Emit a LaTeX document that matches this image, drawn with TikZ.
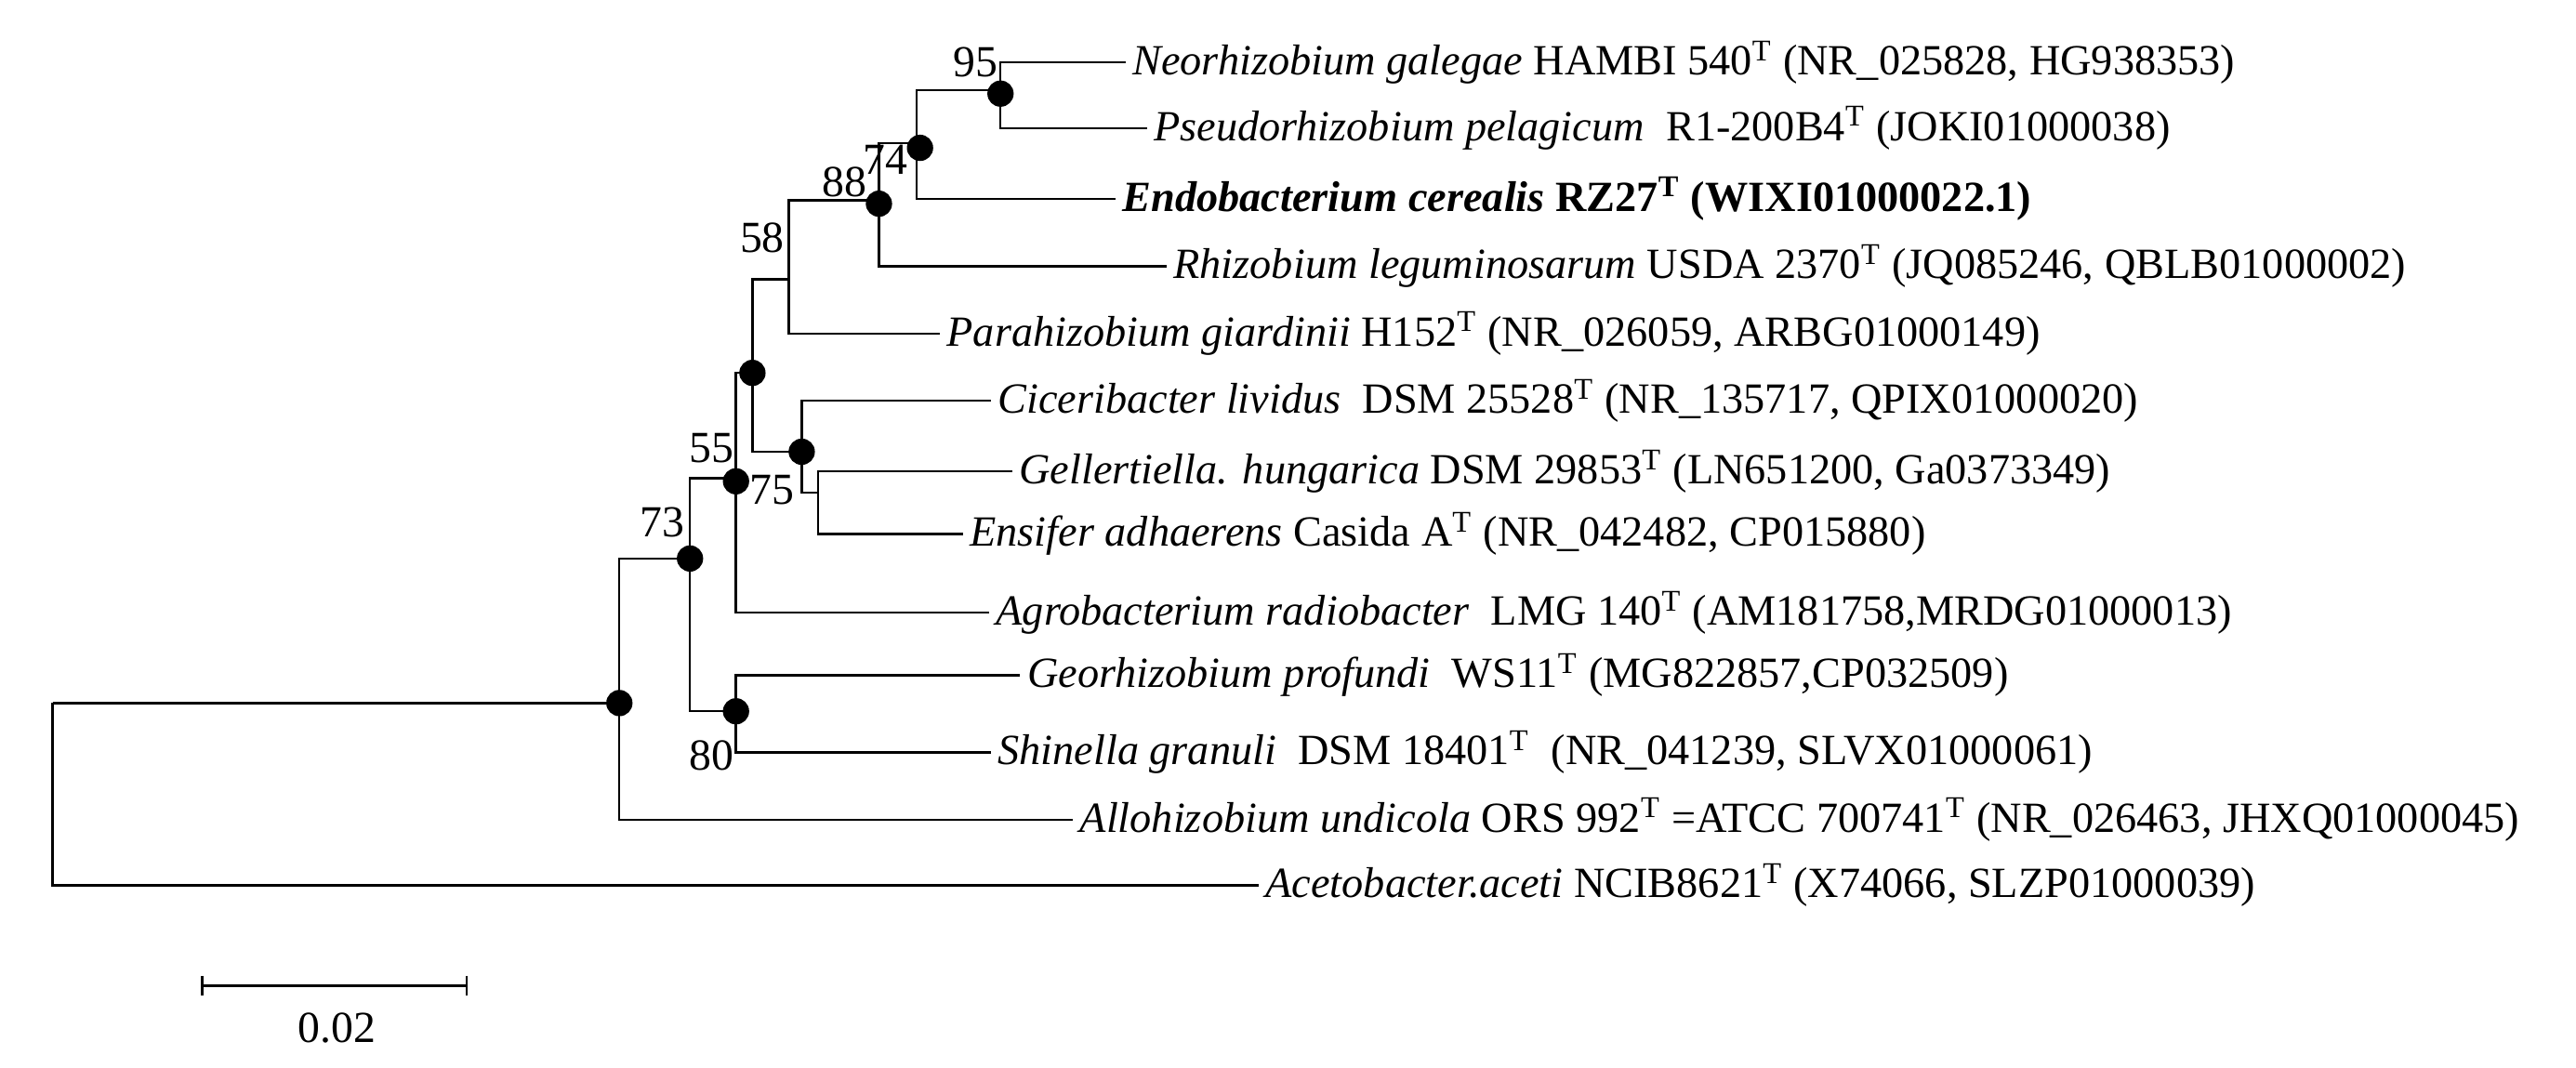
\documentclass[tikz,border=0pt]{standalone}
\usepackage{fontspec}
\setmainfont{Liberation Serif}
\begin{document}
\begin{tikzpicture}[x=0.5pt,y=-0.5pt,
  tip/.style={anchor=west,inner xsep=2pt,inner ysep=0pt,font=\fontsize{13.1}{15}\selectfont},
  bs/.style={font=\fontsize{13.5}{16}\selectfont,inner sep=0pt},
  dot/.style={circle,fill=black,inner sep=0pt,minimum size=8pt},
  br/.style={line width=0.7pt}]
\useasboundingbox (0,0) rectangle (1568,650);
\newcommand{\T}{\textsuperscript{T}}
% internal nodes
\coordinate (root) at (32,428);
\coordinate (n1) at (377,428);
\coordinate (n73) at (420,340);
\coordinate (n80) at (448,433);
\coordinate (n55) at (448,291);
\coordinate (nu) at (458,227);
\coordinate (n58) at (480,170);
\coordinate (n88) at (535,122);
\coordinate (n74) at (558,87);
\coordinate (n95) at (609,55);
\coordinate (n75) at (488,275);
\coordinate (ns) at (498,300);
% tips
\node[tip] (neo) at (685,38) {\textit{Neorhizobium galegae} HAMBI 540\T\ (NR\_025828, HG938353)};
\node[tip] (pse) at (698,78) {\textit{Pseudorhizobium pelagicum}\ \ R1-200B4\T\ (JOKI01000038)};
\node[tip] (end) at (679,121) {\textbf{\textit{Endobacterium cerealis} RZ27\T\ (WIXI01000022.1)}};
\node[tip] (rhi) at (710,162) {\textit{Rhizobium leguminosarum} USDA 2370\T\ (JQ085246, QBLB01000002)};
\node[tip] (par) at (572,203) {\textit{Parahizobium giardinii} H152\T\ (NR\_026059, ARBG01000149)};
\node[tip] (cic) at (603,244) {\textit{Ciceribacter lividus}\ \ DSM 25528\T\ (NR\_135717, QPIX01000020)};
\node[tip] (gel) at (616,287) {\textit{Gellertiella. hungarica} DSM 29853\T\ (LN651200, Ga0373349)};
\node[tip] (ens) at (586,325) {\textit{Ensifer adhaerens} Casida A\T\ (NR\_042482, CP015880)};
\node[tip] (agr) at (602,373) {\textit{Agrobacterium radiobacter}\ \ LMG 140\T\ (AM181758,MRDG01000013)};
\node[tip] (geo) at (621,411) {\textit{Georhizobium profundi}\ \ WS11\T\ (MG822857,CP032509)};
\node[tip] (shi) at (603,458) {\textit{Shinella granuli}\ \ DSM 18401\T\ \ (NR\_041239, SLVX01000061)};
\node[tip] (all) at (653,499) {\textit{Allohizobium undicola} ORS 992\T\ =ATCC 700741\T\ (NR\_026463, JHXQ01000045)};
\node[tip] (ace) at (766,539) {\textit{Acetobacter.aceti} NCIB8621\T\ (X74066, SLZP01000039)};
% branches
\draw[br] (root) |- (n1);
\draw[br] (root) |- (ace.west);
\draw[br] (n1) |- (n73);
\draw[br] (n1) |- (all.west);
\draw[br] (n73) |- (n55);
\draw[br] (n73) |- (n80);
\draw[br] (n80) |- (geo.west);
\draw[br] (n80) |- (shi.west);
\draw[br] (n55) |- (nu);
\draw[br] (n55) |- (agr.west);
\draw[br] (nu) |- (n58);
\draw[br] (nu) |- (n75);
\draw[br] (n58) |- (n88);
\draw[br] (n58) |- (par.west);
\draw[br] (n88) |- (n74);
\draw[br] (n88) |- (rhi.west);
\draw[br] (n74) |- (n95);
\draw[br] (n74) |- (end.west);
\draw[br] (n95) |- (neo.west);
\draw[br] (n95) |- (pse.west);
\draw[br] (n75) |- (cic.west);
\draw[br] (n75) |- (ns);
\draw[br] (ns) |- (gel.west);
\draw[br] (ns) |- (ens.west);
% dots
\node[dot] (d1) at (377,428) {};
\node[dot] (d73) at (420,340) {};
\node[dot] (d80) at (448,433) {};
\node[dot] (d55) at (448,293) {};
\node[dot] (du) at (458,227) {};
\node[dot] (d75) at (488,275) {};
\node[dot] (d88) at (535,124) {};
\node[dot] (d74) at (560,90) {};
\node[dot] (d95) at (609,57) {};
% bootstrap labels
\node[bs] (b95) at (594,38) {95};
\node[bs] (b74) at (539,97) {74};
\node[bs] (b88) at (514,111) {88};
\node[bs] (b58) at (464,145) {58};
\node[bs] (b55) at (433,273) {55};
\node[bs] (b75) at (470,298) {75};
\node[bs] (b73) at (403,318) {73};
\node[bs] (b80) at (433,460) {80};
% scale bar
\coordinate (s1) at (123,600);
\coordinate (s2) at (284,600);
\draw[br] (s1) -- (s2);
\draw[br] (123,594) -- (123,606);
\draw[br] (284,594) -- (284,606);
\node[bs] (sl) at (205,626) {0.02};
\end{tikzpicture}
\end{document}
